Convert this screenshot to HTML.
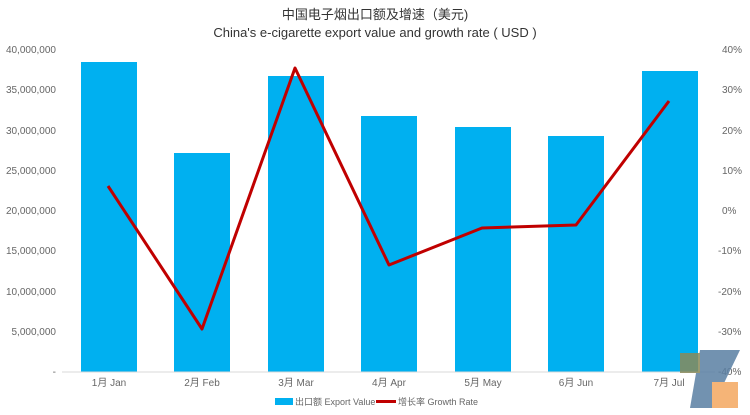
<!DOCTYPE html>
<html><head><meta charset="utf-8"><style>
body{margin:0;background:#fff;}
svg{display:block;font-family:"Liberation Sans","Noto Sans CJK SC",sans-serif;}
</style></head><body>
<svg width="750" height="415" viewBox="0 0 750 415">
<text x="375" y="19" text-anchor="middle" font-size="13" fill="#333">中国电子烟出口额及增速（美元)</text>
<text x="375" y="37" text-anchor="middle" font-size="13" fill="#333">China's e-cigarette export value and growth rate ( USD )</text>
<g font-size="10" fill="#666" text-anchor="end">
<text x="56" y="53">40,000,000</text>
<text x="56" y="93">35,000,000</text>
<text x="56" y="134">30,000,000</text>
<text x="56" y="174">25,000,000</text>
<text x="56" y="214">20,000,000</text>
<text x="56" y="254">15,000,000</text>
<text x="56" y="295">10,000,000</text>
<text x="56" y="335">5,000,000</text>
<text x="56" y="375">-</text>
</g>
<g font-size="10" fill="#666">
<text x="722" y="53">40%</text>
<text x="722" y="93">30%</text>
<text x="722" y="134">20%</text>
<text x="722" y="174">10%</text>
<text x="722" y="214">0%</text>
<text x="718" y="254">-10%</text>
<text x="718" y="295">-20%</text>
<text x="718" y="335">-30%</text>
<text x="718" y="375">-40%</text>
</g>
<g fill="#00b0f0">
<rect x="81" y="62" width="56" height="310"/>
<rect x="174" y="153" width="56" height="219"/>
<rect x="268" y="76" width="56" height="296"/>
<rect x="361" y="116" width="56" height="256"/>
<rect x="455" y="127" width="56" height="245"/>
<rect x="548" y="136" width="56" height="236"/>
<rect x="642" y="71" width="56" height="301"/>
</g>
<line x1="62" y1="372" x2="715" y2="372" stroke="#d9d9d9" stroke-width="1"/>
<polyline points="108,186 202,329 295,68 389,265 482,228 576,225 669,101" fill="none" stroke="#c00000" stroke-width="3" stroke-linejoin="round"/>
<g font-size="10" fill="#666" text-anchor="middle">
<text x="109" y="386">1月 Jan</text>
<text x="202" y="386">2月 Feb</text>
<text x="296" y="386">3月 Mar</text>
<text x="389" y="386">4月 Apr</text>
<text x="483" y="386">5月 May</text>
<text x="576" y="386">6月 Jun</text>
<text x="669" y="386">7月 Jul</text>
</g>
<rect x="275" y="398" width="18" height="7" fill="#00b0f0"/>
<text x="295" y="405" font-size="9" fill="#666">出口额 Export Value</text>
<rect x="376" y="400" width="20" height="3" fill="#c00000"/>
<text x="398" y="405" font-size="9" fill="#666">增长率 Growth Rate</text>
<g opacity="0.85">
<polygon points="700,350 740,350 712,408 690,408" fill="#5a7fa3"/>
<rect x="680" y="353" width="20" height="20" fill="#8a8a5a"/>
<rect x="712" y="382" width="26" height="26" fill="#f4a860"/>
</g>
</svg>
</body></html>
